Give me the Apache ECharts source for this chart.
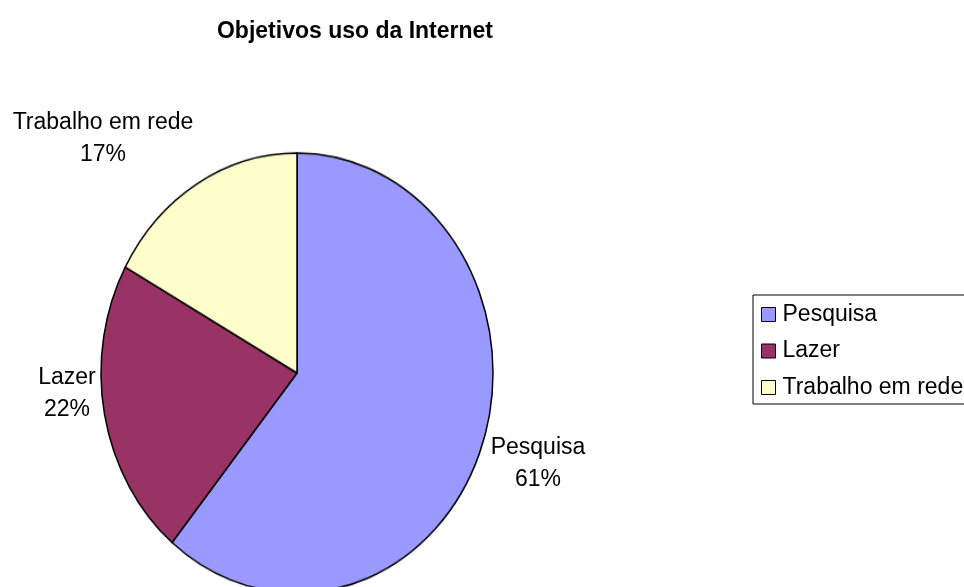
<!DOCTYPE html>
<html>
<head>
<meta charset="utf-8">
<script src="https://cdn.jsdelivr.net/npm/echarts@6/dist/echarts.min.js"></script>
<style>
  html, body { margin: 0; padding: 0; background: #fff; }
  #wrap { position: relative; width: 964px; height: 587px; overflow: hidden; }
  #pie, #front { position: absolute; left: 0; top: 0; width: 964px; height: 587px; }
  /* the original pie is a little taller than wide */
  #pie { transform: scaleY(1.1224); transform-origin: 297px 373px; }
</style>
</head>
<body>
<div id="wrap">
  <div id="pie"></div>
  <div id="front"></div>
</div>
<script>
const categories = ['Pesquisa', 'Lazer', 'Trabalho em rede'];
const shares = [61, 22, 17];
const colors = ['#9999FF', '#993366', '#FFFFCC'];

// where the slice labels sit (label centres, px)
const labelSpots = [[538, 464], [67, 394], [103, 139]];

const FONT = 'Liberation Sans';
const pieData = categories.map((name, i) => ({ name: name, value: shares[i] }));

// back layer: the slices
const pieChart = echarts.init(document.getElementById('pie'));
pieChart.setOption({
  animation: false,
  color: colors,
  series: [{
    type: 'pie',
    center: [297, 373],
    radius: 196,
    startAngle: 90,
    clockwise: true,
    silent: true,
    label: { show: false },
    labelLine: { show: false },
    itemStyle: { borderColor: '#000', borderWidth: 1.5 },
    data: pieData
  }]
});

// front layer: title, legend and slice labels
const front = echarts.init(document.getElementById('front'));
front.setOption({
  animation: false,
  title: {
    text: 'Objetivos uso da Internet',
    left: 350,
    top: 15,
    textAlign: 'center',
    textStyle: { fontFamily: FONT, fontSize: 23, fontWeight: 'bold', color: '#000' }
  },
  legend: {
    orient: 'vertical',
    left: 753,
    top: 295,
    padding: [8, 30, 5, 8],
    borderColor: '#000',
    borderWidth: 1,
    icon: 'rect',
    itemWidth: 14,
    itemHeight: 14,
    itemGap: 13.5,
    selectedMode: false,
    textStyle: { fontFamily: FONT, fontSize: 23, color: '#000', lineHeight: 23, padding: [0, 0, 0, 2] },
    data: categories.map((name, i) => ({
      name: name,
      itemStyle: { color: colors[i], borderColor: '#000', borderWidth: 1, opacity: 1 }
    }))
  },
  series: [{
    type: 'pie',
    center: [297, 373],
    radius: 196,
    startAngle: 90,
    clockwise: true,
    silent: true,
    itemStyle: { color: 'rgba(0,0,0,0)', borderWidth: 0 },
    label: {
      show: true,
      position: 'outside',
      formatter: '{b}\n{d}%',
      fontFamily: FONT,
      fontSize: 23,
      lineHeight: 32,
      color: '#000',
      align: 'center',
      overflow: 'none',
      width: 240
    },
    labelLine: { show: false },
    labelLayout: function (params) {
      const p = labelSpots[params.dataIndex];
      return { x: p[0], y: p[1], align: 'center', verticalAlign: 'middle' };
    },
    data: pieData
  }]
});
</script>
</body>
</html>
